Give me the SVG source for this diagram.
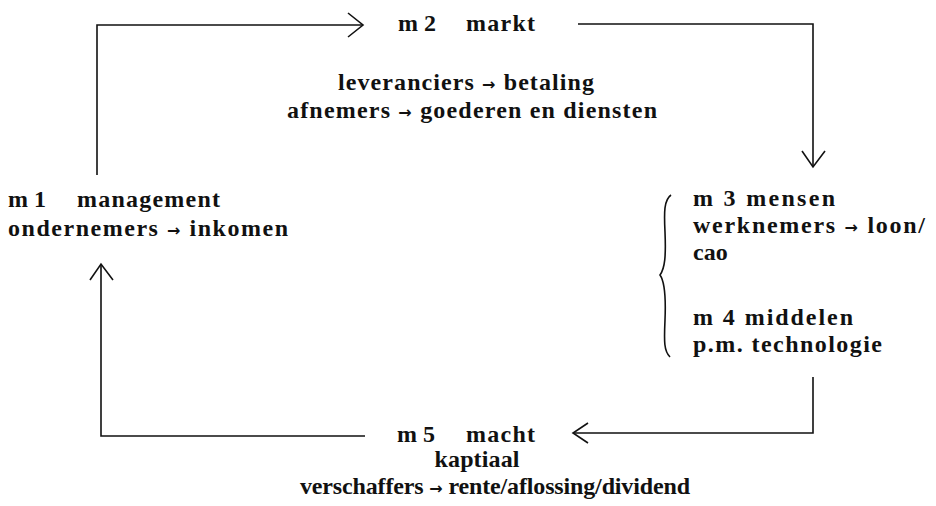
<svg xmlns="http://www.w3.org/2000/svg" width="936" height="506" viewBox="0 0 936 506">
<style>
text{font-family:"Liberation Serif","Times New Roman",serif;font-weight:bold;font-size:24px;fill:#111}
.c{text-anchor:middle}
.ln{fill:none;stroke:#111;stroke-width:1.6;stroke-linejoin:miter}
.ar{font-family:"DejaVu Sans",sans-serif;font-size:16px;font-weight:bold}
</style>
<rect width="936" height="506" fill="#fff"/>
<g id="connectors">
<path class="ln" d="M97,175 V25 H362"/>
<path class="ln" d="M348,13 L363,25 L348,37"/>
<path class="ln" d="M578,24 H813 V167"/>
<path class="ln" d="M802,151 L813,167 L825,151"/>
<path class="ln" d="M813,377 V433 H573"/>
<path class="ln" d="M588,423 L573,433 L588,443"/>
<path class="ln" d="M365,436 H101 V264"/>
<path class="ln" d="M90,280 L101,264 L113,280"/>
</g>
<g id="m2">
<text x="398" y="31">m 2</text>
<text x="466" y="31" textLength="69" lengthAdjust="spacing">markt</text>
<text class="c" x="466" y="90" textLength="256" lengthAdjust="spacing">leveranciers <tspan class="ar">→</tspan> betaling</text>
<text class="c" x="472" y="118" textLength="370" lengthAdjust="spacing">afnemers <tspan class="ar">→</tspan> goederen en diensten</text>
</g>
<g id="m1">
<text x="8" y="207">m 1</text>
<text x="77" y="207" textLength="143" lengthAdjust="spacing">management</text>
<text x="8" y="236" textLength="280" lengthAdjust="spacing">ondernemers <tspan class="ar">→</tspan> inkomen</text>
</g>
<g id="m3m4">
<path class="ln" d="M671,195 C664,200 664,212 665,232 C666,256 665,268 660,275 C665,282 666,296 665,320 C664,342 664,351 670,357"/>
<text x="693" y="206" textLength="142" lengthAdjust="spacing">m 3 mensen</text>
<text x="693" y="233" textLength="232" lengthAdjust="spacing">werknemers <tspan class="ar">→</tspan> loon/</text>
<text x="693" y="260">cao</text>
<text x="693" y="325" textLength="160" lengthAdjust="spacing">m 4 middelen</text>
<text x="693" y="352" textLength="189" lengthAdjust="spacing">p.m. technologie</text>
</g>
<g id="m5">
<text x="397" y="442">m 5</text>
<text x="466" y="442" textLength="69" lengthAdjust="spacing">macht</text>
<text class="c" x="477" y="467" textLength="85" lengthAdjust="spacing">kaptiaal</text>
<text class="c" x="495" y="494" textLength="390" lengthAdjust="spacing">verschaffers <tspan class="ar">→</tspan>  rente/aflossing/dividend</text>
</g>
</svg>
